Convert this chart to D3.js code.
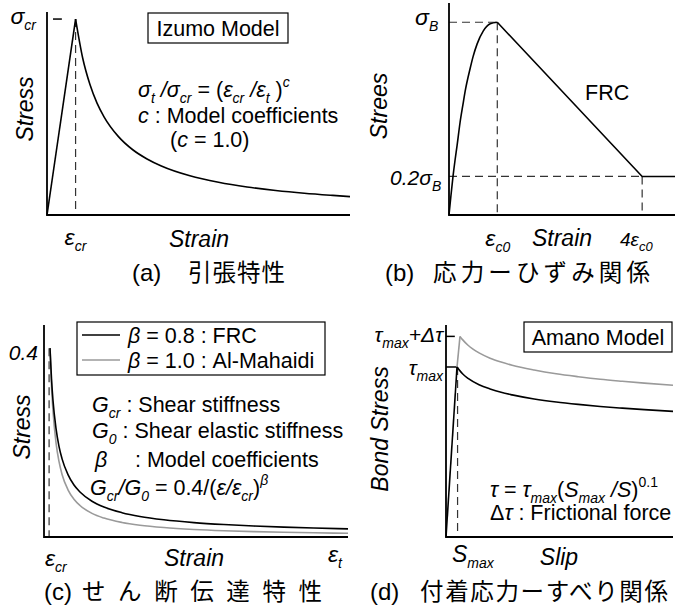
<!DOCTYPE html>
<html><head><meta charset="utf-8">
<script src="https://cdn.jsdelivr.net/npm/d3@7/dist/d3.min.js"></script>
<style>html,body{margin:0;padding:0;background:#fff}svg{display:block}text{white-space:pre}</style>
</head><body>
<svg id="c" width="685" height="612"></svg>
<script>
// ---------- DATA ----------
// (a) Izumo model, strain in eps_cr units, stress in sigma_cr units
const aRiseStrain = [0, 1];
const aRiseStress = [0, 1];
const aSoftStrain = [1, 1.25, 1.5, 1.75, 2, 2.5, 3, 3.5, 4, 5, 6, 7, 8, 9, 10, 10.6];
const aSoftStress = [1, 0.8, 0.667, 0.571, 0.5, 0.4, 0.333, 0.286, 0.25, 0.2, 0.167, 0.143, 0.125, 0.111, 0.1, 0.094];
// (b) FRC stress-strain, strain in eps_c0 units, stress in sigma_B units
const bRiseStrain = [0, 0.04, 0.083, 0.125, 0.167, 0.229, 0.292, 0.333, 0.4375, 0.5, 0.583, 0.708, 0.854, 1];
const bRiseStress = [0, 0.1, 0.2, 0.284, 0.36, 0.48, 0.578, 0.64, 0.76, 0.823, 0.888, 0.954, 0.992, 1];
const bSoftStrain = [1, 4, 4.68];
const bSoftStress = [1, 0.2, 0.2];
// (c) shear transfer, strain ratio eps/eps_cr, G/G0
const cRatio = [1, 1.25, 1.5, 2, 2.5, 3, 4, 5, 6, 8, 10, 13, 16, 20, 25, 30, 35, 40, 45, 50.7];
const cFRC   = [0.4, 0.335, 0.289, 0.23, 0.192, 0.166, 0.132, 0.11, 0.0954, 0.0758, 0.0634, 0.0515, 0.0435, 0.0364, 0.0305, 0.0264, 0.0233, 0.0209, 0.019, 0.0173];
const cAlM   = [0.4, 0.32, 0.267, 0.2, 0.16, 0.133, 0.1, 0.08, 0.0667, 0.05, 0.04, 0.0308, 0.025, 0.02, 0.016, 0.0133, 0.0114, 0.01, 0.0089, 0.0079];
// (d) Amano bond model, slip in S_max units, bond stress in tau_max units
const dRiseSlip = [0, 1];
const dRiseBond = [0, 1];
const dSoftSlip = [1, 1.5, 2, 3, 4, 5, 6, 8, 10, 12, 14, 16, 18, 20.6];
const dSoftBond = [1, 0.96, 0.933, 0.896, 0.871, 0.851, 0.836, 0.812, 0.794, 0.78, 0.768, 0.758, 0.749, 0.739];
const dFricRiseSlip = [1, 1.27];
const dFricRiseBond = [1, 1.18];
const dFricSlip = [1.27, 1.5, 2, 3, 4, 5, 6, 8, 10, 12, 14, 16, 18, 20.6];
const dFricBond = [1.18, 1.161, 1.128, 1.083, 1.052, 1.029, 1.01, 0.982, 0.96, 0.943, 0.928, 0.916, 0.905, 0.893];
// captions
const captionTags = ["(a)", "(b)", "(c)", "(d)"];
const captionsJa = ["引張特性", "応力ーひずみ関係", "せん断伝達特性", "付着応力ーすべり関係"];
const legendLabels = ["β = 0.8 : FRC", "β = 1.0 : Al-Mahaidi"];

// ---------- DRAWING ----------
const LAT = "'Liberation Sans', Arial, sans-serif";
const CJK = "'Noto Sans CJK JP', sans-serif";
const svg = d3.select("#c");
const zip = (xs, ys) => xs.map((x, i) => [x, ys[i]]);

function rich(g, x, y, segs, opt = {}) {
  const size = opt.size || 21.5, sub = opt.sub || 14;
  const t = g.append("text").attr("x", x).attr("y", y).attr("font-size", size)
    .attr("font-family", LAT).attr("text-anchor", opt.anchor || "start").attr("fill", "#000");
  if (opt.rotate) t.attr("transform", `rotate(-90,${x},${y})`);
  let cur = 0;
  for (const [s, f = ""] of segs) {
    const off = f.includes("b") ? size * 0.28 : f.includes("p") ? -size * 0.45 : 0;
    const ts = t.append("tspan").attr("dy", off - cur).text(s);
    cur = off;
    if (f.includes("i")) ts.attr("font-style", "italic");
    if (f.includes("b") || f.includes("p")) ts.attr("font-size", sub);
  }
  return t;
}
function axes(g, x, y) {
  const [x0, x1] = x.range(), [y0, y1] = y.range();
  g.append("path").attr("d", `M${x0},${y1}V${y0}H${x1}`).attr("fill", "none")
    .attr("stroke", "#000").attr("stroke-width", 1.8);
}
function curve(g, x, y, xs, ys, color, smooth) {
  const line = d3.line().x(d => x(d[0])).y(d => y(d[1]))
    .curve(smooth ? d3.curveMonotoneX : d3.curveLinear);
  g.append("path").attr("d", line(zip(xs, ys))).attr("fill", "none")
    .attr("stroke", color).attr("stroke-width", 1.6).attr("stroke-linejoin", "round");
}
function dash(g, x1, y1, x2, y2) {
  g.append("line").attr("x1", x1).attr("y1", y1).attr("x2", x2).attr("y2", y2)
    .attr("stroke", "#333").attr("stroke-width", 1.2).attr("stroke-dasharray", "8,5");
}
function seg(g, x1, y1, x2, y2, color) {
  g.append("line").attr("x1", x1).attr("y1", y1).attr("x2", x2).attr("y2", y2)
    .attr("stroke", color || "#000").attr("stroke-width", 1.5);
}
function box(g, x, y, w, h) {
  g.append("rect").attr("x", x).attr("y", y).attr("width", w).attr("height", h)
    .attr("fill", "#fff").attr("stroke", "#000").attr("stroke-width", 1.2);
}
function plain(g, x, y, s, opt = {}) {
  const t = g.append("text").attr("x", x).attr("y", y).attr("font-size", opt.size || 21.5)
    .attr("font-family", opt.family || LAT).attr("text-anchor", opt.anchor || "start").text(s);
  if (opt.italic) t.attr("font-style", "italic");
  if (opt.len) t.attr("textLength", opt.len).attr("lengthAdjust", "spacing");
  if (opt.rotate) t.attr("transform", `rotate(-90,${x},${y})`);
  return t;
}
function caption(i, xTag, xJa, lenJa, y) {
  plain(svg, xTag, y, captionTags[i], { size: 24 });
  plain(svg, xJa, y, captionsJa[i], { size: 23.5, family: CJK, len: lenJa });
}

// ----- (a)
{
  const g = svg.append("g");
  const x = d3.scaleLinear([0, 10.6], [47, 350]);
  const y = d3.scaleLinear([0, 1.036], [215, 12]);
  dash(g, x(1), y(1), x(1), y(0));
  seg(g, x(0.21), y(1), x(0.52), y(1));
  axes(g, x, y);
  curve(g, x, y, aRiseStrain, aRiseStress, "#000", false);
  curve(g, x, y, aSoftStrain, aSoftStress, "#000", true);
  box(g, 148, 13, 140, 30);
  plain(g, 218, 36, "Izumo Model", { anchor: "middle" });
  rich(g, 138, 97, [["σ","i"],["t","ib"],[" /","i"],["σ","i"],["cr","ib"],[" = ("],["ε","i"],["cr","ib"],[" /","i"],["ε","i"],["t","ib"],[" )"],["c","ip"]]);
  rich(g, 138, 123, [["c","i"],[" : Model coefficients"]]);
  rich(g, 170, 147, [["("],["c","i"],[" = 1.0)"]]);
  rich(g, 36, 24, [["σ","i"],["cr","ib"]], { anchor: "end", size: 23 });
  rich(g, x(1) - 11, 245, [["ε","i"],["cr","ib"]], { size: 23 });
  plain(g, 199, 247, "Strain", { italic: true, size: 23, anchor: "middle" });
  plain(g, 33, 109, "Stress", { italic: true, size: 23, anchor: "middle", rotate: true });
  caption(0, 132, 188, 97, 281);
}
// ----- (b)
{
  const g = svg.append("g");
  const x = d3.scaleLinear([0, 4.68], [449, 675]);
  const y = d3.scaleLinear([0, 1.1], [215, 3]);
  dash(g, x(0), y(1), x(1), y(1));
  dash(g, x(1), y(1), x(1), y(0));
  dash(g, x(0), y(0.2), x(4), y(0.2));
  dash(g, x(4), y(0.2), x(4), y(0));
  axes(g, x, y);
  curve(g, x, y, bRiseStrain, bRiseStress, "#000", true);
  curve(g, x, y, bSoftStrain, bSoftStress, "#000", false);
  plain(g, 585, 100, "FRC");
  rich(g, 415, 25, [["σ","i"],["B","ib"]], { size: 23 });
  rich(g, 390, 185, [["0.2","i"],["σ","i"],["B","ib"]], { size: 21 });
  rich(g, x(1) - 12, 246, [["ε","i"],["c0","ib"]], { size: 23 });
  plain(g, 562, 246, "Strain", { italic: true, size: 23, anchor: "middle" });
  rich(g, 620, 246, [["4","i"],["ε","i"],["c0","ib"]], { size: 19, sub: 13 });
  plain(g, 387, 106, "Strees", { italic: true, size: 23, anchor: "middle", rotate: true });
  caption(1, 385, 433, 217, 281);
}
// ----- (c)
{
  const g = svg.append("g");
  const x = d3.scaleLinear([0, 50.7], [44, 348]);
  const y = d3.scaleLinear([0, 0.449], [537, 325]);
  dash(g, x(0.85), y(0.4), x(0.85), y(0));
  axes(g, x, y);
  curve(g, x, y, cRatio, cAlM, "#9a9a9a", true);
  curve(g, x, y, cRatio, cFRC, "#000", true);
  box(g, 77, 322, 248, 53);
  seg(g, 82, 335, 120, 335, "#000");
  seg(g, 82, 360, 120, 360, "#9a9a9a");
  rich(g, 128, 343, [["β","i"],[legendLabels[0].slice(1)]]);
  rich(g, 128, 368, [["β","i"],[legendLabels[1].slice(1)]]);
  rich(g, 92, 412, [["G","i"],["cr","ib"],[" : Shear stiffness"]]);
  rich(g, 92, 438, [["G","i"],["0","ib"],[" : Shear elastic stiffness"]]);
  rich(g, 95, 467, [["β","i"]]);
  plain(g, 135, 467, ": Model coefficients");
  rich(g, 90, 495, [["G","i"],["cr","ib"],["/","i"],["G","i"],["0","ib"],[" = 0.4/("],["ε","i"],["/","i"],["ε","i"],["cr","ib"],[")"],["β","ip"]]);
  plain(g, 38, 360, "0.4", { italic: true, size: 21, anchor: "end" });
  rich(g, 45, 566, [["ε","i"],["cr","ib"]], { size: 23 });
  plain(g, 194, 566, "Strain", { italic: true, size: 23, anchor: "middle" });
  rich(g, 328, 562, [["ε","i"],["t","ib"]], { size: 23 });
  plain(g, 30, 427, "Stress", { italic: true, size: 23, anchor: "middle", rotate: true });
  caption(2, 44, 82, 240, 600);
}
// ----- (d)
{
  const g = svg.append("g");
  const x = d3.scaleLinear([0, 20.6], [446, 673]);
  const y = d3.scaleLinear([0, 1.247], [537, 325]);
  dash(g, x(1.05), y(1), x(1.05), y(0));
  seg(g, x(0), y(1.18), x(0.8), y(1.18));
  seg(g, x(0), y(1), x(1), y(1));
  axes(g, x, y);
  curve(g, x, y, dFricRiseSlip, dFricRiseBond, "#9a9a9a", false);
  curve(g, x, y, dFricSlip, dFricBond, "#9a9a9a", true);
  curve(g, x, y, dRiseSlip, dRiseBond, "#000", false);
  curve(g, x, y, dSoftSlip, dSoftBond, "#000", true);
  box(g, 524, 322, 148, 30);
  plain(g, 598, 345, "Amano Model", { anchor: "middle" });
  rich(g, 490, 497, [["τ","i"],[" = "],["τ","i"],["max","ib"],["("],["S","i"],["max","ib"],[" /","i"],["S","i"],[")"],["0.1","p"]]);
  rich(g, 490, 520, [["Δ"],["τ","i"],[" : Frictional force"]]);
  rich(g, 443, 342, [["τ","i"],["max","ib"],["+Δτ","i"]], { anchor: "end", size: 21 });
  rich(g, 443, 375, [["τ","i"],["max","ib"]], { anchor: "end", size: 21 });
  rich(g, 452, 562, [["S","i"],["max","ib"]], { size: 23 });
  plain(g, 559, 565, "Slip", { italic: true, size: 23, anchor: "middle" });
  plain(g, 388, 429, "Bond Stress", { italic: true, size: 23, anchor: "middle", rotate: true });
  caption(3, 370, 420, 248, 600);
}
</script>
</body></html>
